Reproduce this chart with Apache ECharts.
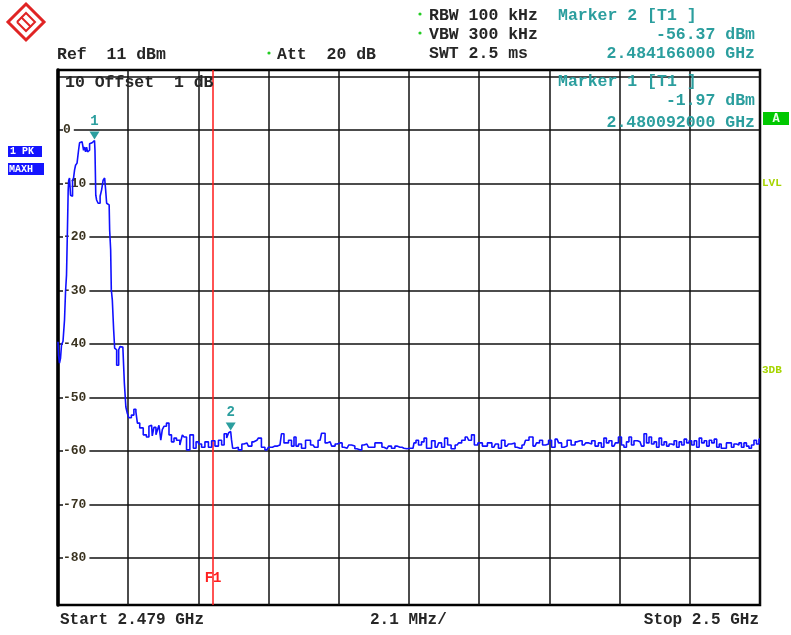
<!DOCTYPE html>
<html><head><meta charset="utf-8">
<script src="https://cdn.jsdelivr.net/npm/echarts@6/dist/echarts.min.js"></script>
<style>html,body{margin:0;padding:0;background:#fff}#c{width:791px;height:635px}</style>
</head><body><div id="c"></div>
<script>
// ---- data (frequency in GHz, level in dBm) ----
const freqGHz = [
2.47900,2.47903,2.47906,2.47909,2.47912,2.47918,2.47921,2.47924,2.47927,2.47930,
2.47931,2.47933,2.47936,2.47939,2.47942,2.47945,2.47948,2.47951,2.47954,2.47960,
2.47963,2.47966,2.47972,2.47975,2.47978,2.47981,2.47984,2.47987,2.47990,2.47993,
2.47996,2.48002,2.48005,2.480092,2.48012,2.48014,2.48017,2.48023,2.48029,2.48032,
2.48038,2.48041,2.48044,2.48047,2.48053,2.48056,2.48059,2.48060,2.48065,2.48068,
2.48071,2.48074,2.48077,2.48080,2.48083,2.48088,2.48091,2.48097,2.48100,2.48106,
2.48109,2.48115,2.48124,2.48130,2.48136,2.48139,2.48150,2.48160,2.48169,2.48175,
2.48180,2.48184,2.48190,2.48196,2.48199,2.48205,2.48210,2.48214,2.48220,2.48229,
2.48235,2.48244,2.48250,2.48259,2.48270,2.48274,2.48280,2.48289,2.48300,2.48310,
2.48316,2.48325,2.48334,2.48345,2.48355,2.48364,2.48375,2.48385,2.48394,2.48400,
2.48409,2.48412,2.484166,2.48421,2.48424,2.48435,2.48444,2.48456,2.48465,2.48474,
2.48486,2.48495,2.48504,2.48513,2.48525,2.48534,2.48549,2.48564,2.48573,2.48579,
2.48585,2.48594,2.48603,2.48609,2.48615,2.48624,2.48633,2.48648,2.48663,2.48672,
2.48684,2.48693,2.48705,2.48714,2.48723,2.48735,2.48744,2.48756,2.48765,2.48774,
2.48782,2.48794,2.48803,2.48815,2.48824,2.48833,2.48842,2.48854,2.48863,2.48875,
2.48884,2.48893,2.48902,2.48914,2.48923,2.48935,2.48944,2.48953,2.48962,2.48968,
2.48974,2.48983,2.48992,2.48998,2.49007,2.49013,2.49022,2.49034,2.49043,2.49052,
2.49061,2.49070,2.49082,2.49094,2.49103,2.49112,2.49124,2.49133,2.49141,2.49150,
2.49162,2.49177,2.49192,2.49204,2.49213,2.49222,2.49231,2.49243,2.49252,2.49261,
2.49273,2.49282,2.49294,2.49303,2.49315,2.49327,2.49336,2.49345,2.49354,2.49363,
2.49372,2.49381,2.49393,2.49402,2.49411,2.49417,2.49429,2.49441,2.49453,2.49462,
2.49474,2.49483,2.49492,2.49501,2.49512,2.49521,2.49530,2.49536,2.49545,2.49551,
2.49563,2.49572,2.49581,2.49590,2.49596,2.49605,2.49611,2.49620,2.49626,2.49641,
2.49650,2.49656,2.49665,2.49671,2.49680,2.49686,2.49695,2.49701,2.49710,2.49716,
2.49725,2.49731,2.49740,2.49746,2.49755,2.49761,2.49770,2.49776,2.49785,2.49791,
2.49800,2.49806,2.49815,2.49821,2.49830,2.49836,2.49845,2.49851,2.49860,2.49866,
2.49875,2.49881,2.49887,2.49895,2.49904,2.49910,2.49919,2.49925,2.49934,2.49940,
2.49949,2.49955,2.49964,2.49970,2.49979,2.49985,2.49994,2.50000
];
const levelDbm = [
-39.6,-42.1,-43.6,-42.7,-40.2,-39.5,-35.5,-30.3,-27.1,-17.8,
-11.2,-9.4,-9.0,-12.2,-12.4,-9.4,-9.0,-7.5,-6.6,-6.2,
-3.8,-2.4,-2.2,-2.3,-3.8,-3.2,-4.1,-3.2,-4.1,-3.8,
-2.6,-2.4,-2.1,-1.97,-3.8,-12.2,-13.1,-13.7,-12.4,-11.2,
-9.4,-9.0,-11.2,-13.7,-14.0,-18.7,-22.4,-29.9,-31.8,-37.4,
-40.8,-41.1,-44.0,-44.0,-41.1,-40.5,-40.6,-40.7,-47.3,-51.8,
-53.0,-53.8,-53.3,-52.2,-52.7,-54.8,-55.7,-57.0,-57.4,-55.4,
-55.2,-57.2,-55.6,-57.0,-56.1,-55.2,-58.0,-56.0,-55.4,-54.8,
-57.0,-58.3,-57.6,-58.0,-58.9,-57.0,-57.4,-59.8,-57.0,-59.5,
-58.3,-58.7,-59.3,-58.3,-59.3,-58.1,-59.1,-58.0,-58.9,-56.8,
-57.6,-56.6,-56.37,-57.8,-59.5,-59.3,-59.8,-58.7,-58.5,-59.1,
-58.3,-58.0,-57.6,-59.3,-59.8,-59.3,-59.1,-58.9,-56.8,-58.5,
-58.5,-58.0,-59.1,-57.4,-59.1,-58.7,-59.5,-58.0,-58.9,-59.3,
-58.0,-56.7,-58.5,-58.3,-59.1,-58.7,-58.5,-59.3,-59.5,-58.9,
-59.1,-59.6,-59.8,-58.9,-58.7,-59.3,-59.3,-58.5,-58.5,-59.3,
-59.6,-59.1,-59.5,-59.1,-59.3,-59.5,-59.6,-59.5,-59.5,-58.5,
-58.0,-58.9,-58.3,-57.6,-59.5,-59.5,-58.1,-59.3,-58.5,-59.3,
-57.6,-58.9,-59.6,-58.9,-58.5,-58.0,-57.4,-58.0,-57.0,-58.9,
-58.5,-59.1,-58.5,-59.3,-58.7,-59.5,-58.0,-59.1,-58.7,-58.5,
-59.3,-59.5,-58.9,-58.0,-57.4,-59.1,-58.5,-58.0,-58.9,-58.7,
-58.0,-59.3,-57.8,-58.5,-59.3,-59.1,-58.0,-58.9,-58.3,-58.1,
-58.9,-58.5,-58.7,-58.1,-59.1,-58.5,-59.3,-57.6,-58.5,-58.1,
-59.1,-58.5,-57.4,-58.9,-59.3,-58.3,-57.4,-58.9,-58.1,-58.3,
-59.1,-56.8,-58.5,-57.4,-58.7,-58.3,-59.3,-57.6,-58.9,-58.3,
-59.1,-58.7,-58.9,-58.1,-59.3,-58.3,-58.9,-57.8,-58.5,-58.1,
-58.9,-58.1,-59.3,-57.6,-58.5,-58.1,-59.1,-58.0,-58.5,-57.8,
-59.3,-58.7,-59.5,-59.5,-58.5,-58.5,-59.3,-58.7,-58.9,-58.5,
-59.3,-58.5,-59.1,-59.5,-58.9,-58.0,-58.7,-57.8
];
const markerNames = ['1', '2'];
const markerFreqGHz = [2.480092, 2.484166];
const markerLevelDbm = [-1.97, -56.37];
const f1FreqGHz = 2.48364;
const f1LabelLevel = -83.8;
const yGridDbm = [10, 0, -10, -20, -30, -40, -50, -60, -70, -80];
const yTickLabels = [0, -10, -20, -30, -40, -50, -60, -70, -80];
const xGridGHz = [2.479, 2.4811, 2.4832, 2.4853, 2.4874, 2.4895, 2.4916, 2.4937, 2.4958, 2.4979, 2.5];
const startGHz = 2.479, stopGHz = 2.5;
const refDbm = 11.2, bottomDbm = -88.8;

// ---- chart ----
const mono = "'Liberation Mono','DejaVu Sans Mono',monospace";
const teal = '#2b9e9e';
const dark = '#262626';
const chart = echarts.init(document.getElementById('c'), null, {renderer: 'canvas'});

function txt(text, x, y, opts) {
  opts = opts || {};
  return {
    type: 'text', z: 100,
    style: {
      text: text, x: x, y: y,
      font: (opts.weight || 'bold') + ' ' + (opts.size || 16.5) + 'px ' + mono,
      fill: opts.color || dark,
      textAlign: opts.align || 'left', align: opts.align || 'left',
      textVerticalAlign: 'middle', verticalAlign: 'middle'
    }
  };
}

const graphics = [
  // R&S logo
  {type: 'polygon', z: 100, shape: {points: [[26,4],[44,22],[26,40],[8,22]]},
   style: {fill: 'none', stroke: '#e02424', lineWidth: 3}},
  {type: 'polyline', z: 100, shape: {points: [[17,22],[26,13],[35,22],[26,31],[17,22]]},
   style: {fill: 'none', stroke: '#e02424', lineWidth: 2}},
  {type: 'line', z: 100, shape: {x1: 21, y1: 17, x2: 31, y2: 27}, style: {stroke: '#e02424', lineWidth: 2}},
  // header
  txt('Ref  11 dBm', 57, 55),
  {type: 'circle', z: 100, shape: {cx: 269, cy: 53, r: 1.6}, style: {fill: '#22cc22'}},
  txt('Att  20 dB', 277, 55),
  {type: 'circle', z: 100, shape: {cx: 420, cy: 14, r: 1.6}, style: {fill: '#22cc22'}},
  txt('RBW 100 kHz', 429, 16),
  {type: 'circle', z: 100, shape: {cx: 420, cy: 33, r: 1.6}, style: {fill: '#22cc22'}},
  txt('VBW 300 kHz', 429, 35),
  txt('SWT 2.5 ms', 429, 54),
  txt('Marker 2 [T1 ]', 558, 16, {color: teal}),
  txt('-56.37 dBm', 755, 35, {color: teal, align: 'right'}),
  txt('2.484166000 GHz', 755, 54, {color: teal, align: 'right'}),
  txt('Marker 1 [T1 ]', 558, 82, {color: teal}),
  txt('-1.97 dBm', 755, 101, {color: teal, align: 'right'}),
  txt('2.480092000 GHz', 755, 123, {color: teal, align: 'right'}),
  txt('10 Offset  1 dB', 65, 83),
  // left boxes
  {type: 'rect', z: 100, shape: {x: 8, y: 146, width: 34, height: 11}, style: {fill: '#1414ff'}},
  txt('1 PK', 10, 151.5, {color: '#fff', size: 10}),
  {type: 'rect', z: 100, shape: {x: 8, y: 163, width: 36, height: 12}, style: {fill: '#1414ff'}},
  txt('MAXH', 9, 169, {color: '#fff', size: 10}),
  // right side
  {type: 'rect', z: 100, shape: {x: 763, y: 112, width: 26, height: 13}, style: {fill: '#00c800'}},
  txt('A', 776, 118.5, {color: '#e8ffe8', size: 12, align: 'center'}),
  txt('LVL', 762, 183, {color: '#a6d400', size: 11}),
  txt('3DB', 762, 370, {color: '#a6d400', size: 11}),
  // bottom
  txt('Start 2.479 GHz', 60, 620, {size: 16}),
  txt('2.1 MHz/', 370, 620, {size: 16}),
  txt('Stop 2.5 GHz', 759, 620, {align: 'right', size: 16})
];

const option = {
  animation: false,
  backgroundColor: '#fff',
  grid: {left: 58, right: 31, top: 70, bottom: 30, containLabel: false,
         show: true, borderColor: '#000', borderWidth: 2.5, backgroundColor: 'transparent'},
  xAxis: {
    type: 'value', min: startGHz, max: stopGHz,
    axisLine: {show: false},
    axisTick: {show: false, customValues: xGridGHz},
    axisLabel: {show: false, customValues: xGridGHz},
    splitLine: {show: true, lineStyle: {color: '#111', width: 1.5}}
  },
  yAxis: {
    type: 'value', min: bottomDbm, max: refDbm,
    axisLine: {show: true, lineStyle: {color: '#000', width: 3.5}},
    axisTick: {show: false, customValues: yGridDbm},
    axisLabel: {show: true, inside: true, margin: 5, customValues: yTickLabels,
      fontFamily: mono, fontWeight: 'bold', fontSize: 13, color: '#3a3320',
      backgroundColor: '#fff', padding: [0, 3, 0, 0]},
    splitLine: {show: true, lineStyle: {color: '#111', width: 1.5}}
  },
  series: [{
    type: 'line',
    data: freqGHz.map((f, i) => [f, levelDbm[i]]),
    showSymbol: false, symbol: 'none',
    step: 'middle',
    lineStyle: {color: '#1010ff', width: 1.6},
    z: 5,
    markLine: {
      silent: true, symbol: ['none', 'none'],
      label: {show: false},
      lineStyle: {color: '#ff1a1a', width: 1.5, type: 'solid'},
      data: [[{coord: [f1FreqGHz, bottomDbm]}, {coord: [f1FreqGHz, refDbm]}]]
    },
    markPoint: {
      silent: true,
      data: markerNames.map((n, i) => ({
        coord: [markerFreqGHz[i], markerLevelDbm[i]],
        symbol: 'triangle', symbolRotate: 180, symbolSize: [10, 8], symbolOffset: [0, -5],
        itemStyle: {color: teal},
        label: {show: true, formatter: n, position: 'top', distance: 3,
          color: teal, fontFamily: mono, fontWeight: 'bold', fontSize: 14}
      })).concat([{
        coord: [f1FreqGHz, f1LabelLevel], symbol: 'rect', symbolSize: 2,
        itemStyle: {color: 'rgba(0,0,0,0)'},
        label: {show: true, formatter: 'F1', position: 'inside',
          color: '#ff2020', fontFamily: mono, fontWeight: 'bold', fontSize: 14}
      }])
    }
  }],
  graphic: graphics
};
chart.setOption(option);
</script>
</body></html>
